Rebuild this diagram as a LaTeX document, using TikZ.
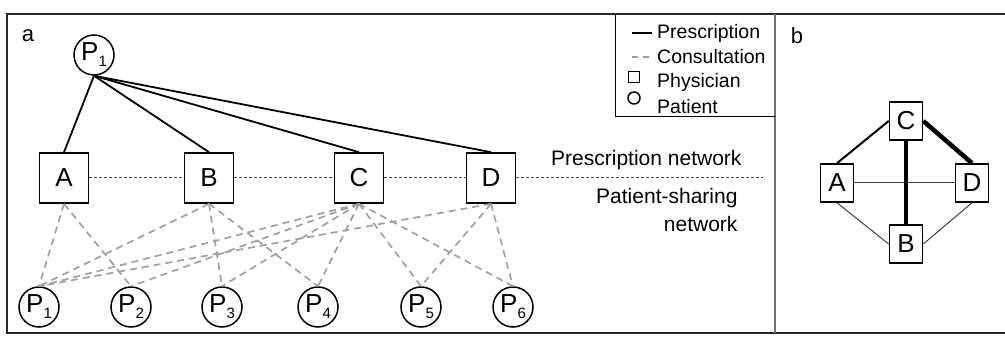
\documentclass[tikz,border=0pt]{standalone}
\usepackage{fontspec}
\setmainfont{Liberation Sans}
\usepackage{tikz}
\usetikzlibrary{positioning}
\definecolor{grigio}{RGB}{160,160,160}
\definecolor{cornice}{RGB}{40,40,40}
\tikzset{
  network/.style={
    physician/.style={draw,line width=1.6,minimum width=49,minimum height=50,inner sep=0,font={\fontsize{26}{26}\selectfont}},
    small physician/.style={physician,minimum width=33,minimum height=38},
    patient/.style={circle,draw,line width=1.5,minimum size=40,inner sep=0,font={\fontsize{26}{26}\selectfont}},
    prescription/.style={black,line width=1.8},
    consultation/.style={grigio,line width=1.7,dash pattern=on 7 off 5},
    separator/.style={black!70,line width=1,dash pattern=on 3 off 2},
    panel label/.style={font={\fontsize{22}{22}\selectfont}},
    legend label/.style={anchor=west,inner sep=0,text=black,font={\fontsize{19.5}{19.5}\selectfont}},
  }
}
\newcommand{\psub}[1]{P\raisebox{-6pt}{\fontsize{15}{15}\selectfont #1}}

\begin{document}
\begin{tikzpicture}[network,x=1pt,y=-1pt]
    \useasboundingbox (0,0) rectangle (1005,339);

    % frame
    \draw[cornice,line width=1.6] (1005,14) -- (7,14) -- (7,333) -- (1005,333);
    \draw[black!55,line width=2.2] (775,14) -- (775,333);
    \draw[black,line width=1] (615,14) -- (615,117) -- (775,117);

    % legend
    \coordinate (l1) at (632,33);
    \draw[prescription] (l1) -- ++(20,0);
    \coordinate (l2) at (632,57);
    \draw[consultation,dash pattern=on 6 off 5] (l2) -- ++(20,0);
    \node[draw,line width=1.5,minimum size=11,inner sep=0] (lsq) at (634,77) {};
    \node[circle,draw,line width=1.5,minimum size=12,inner sep=0] (lci) at (634,98) {};
    \foreach \t/\y in {Prescription/33,Consultation/57,Physician/82,Patient/107}
        \node[legend label] at (657,\y) {\t};

    % panel a
    \node[panel label] (la) at (28,36) {a};
    \node[patient] (p1) at (94,55) {\psub{1}};
    \foreach \n/\x in {A/64,B/209,C/359,D/491}
        \node[physician] (\n) at (\x,178) {\n};
    \foreach \i/\x in {1/39,2/131,3/222,4/318,5/421,6/513}
        \node[patient] (q\i) at (\x,307) {\psub{\i}};

    \foreach \n in {A,B,C,D}
        \draw[prescription] (p1.south) -- (\n.north);

    \coordinate (split end) at (763,178);
    \draw[separator] (A) -- (B) (B) -- (C) (C) -- (D) (D.east) -- (split end);

    \foreach \s/\t in {A/1,A/2,B/1,B/3,B/4,C/1,C/2,C/3,C/4,C/5,C/6,D/1,D/5,D/6}
        \draw[consultation] (\s.south) -- (q\t.north);

    \node[anchor=east,font={\fontsize{21}{21}\selectfont}] (ptext) at (745,160) {Prescription network};
    \node[anchor=east,align=right,font={\fontsize{21}{28}\selectfont}] (stext) at (741,210) {Patient-sharing\\network};

    % panel b
    \node[panel label] (lb) at (797,36) {b};
    \node[small physician] (bC) at (906,121) {C};
    \node[small physician] (bA) at (837,183) {A};
    \node[small physician] (bD) at (972,183) {D};
    \node[small physician] (bB) at (906,244) {B};

    \draw[black!75,line width=1] (bA) -- (bD);
    \draw[black!75,line width=1] (bA.south) -- (bB.west);
    \draw[black!75,line width=1] (bD.south) -- (bB.east);
    \draw[black,line width=2] (bA.north) -- (bC.west);
    \draw[black,line width=4.5] (bC.east) -- (bD.north);
    \draw[black,line width=4.8] (bC.south) -- (bB.north);
\end{tikzpicture}
\end{document}
